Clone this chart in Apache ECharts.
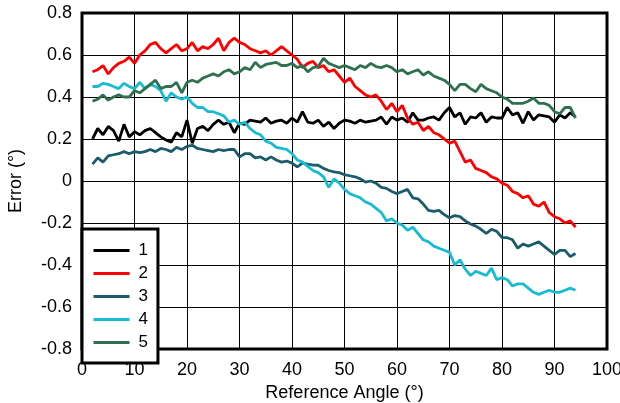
<!DOCTYPE html>
<html>
<head>
<meta charset="utf-8">
<script src="https://cdn.jsdelivr.net/npm/echarts@6/dist/echarts.min.js"></script>
<style>html,body{margin:0;padding:0;background:#fff;}#c{width:620px;height:403px;}</style>
</head>
<body>
<div id="c"></div>
<script>
// Reference angle (degrees), one sample per degree
var angles = [];
for (var a = 2; a <= 94; a++) angles.push(a);

var seriesNames = ['1', '2', '3', '4', '5'];

var s1 = [0.20,0.25,0.22,0.26,0.24,0.19,0.27,0.21,0.235,0.22,0.24,0.25,0.23,0.21,0.195,0.185,0.23,0.21,0.29,0.18,
0.25,0.26,0.24,0.27,0.29,0.27,0.28,0.23,0.275,0.27,0.29,0.285,0.28,0.30,0.275,0.285,0.29,0.275,0.30,0.28,
0.33,0.28,0.275,0.29,0.26,0.28,0.25,0.275,0.29,0.285,0.275,0.29,0.28,0.285,0.29,0.305,0.27,0.305,0.29,0.30,
0.28,0.325,0.29,0.29,0.30,0.305,0.29,0.325,0.35,0.305,0.325,0.27,0.305,0.30,0.325,0.28,0.305,0.30,0.30,0.35,
0.315,0.325,0.275,0.33,0.29,0.315,0.31,0.305,0.28,0.315,0.30,0.325,0.305];

var s2 = [0.52,0.53,0.55,0.51,0.54,0.56,0.57,0.59,0.56,0.60,0.62,0.65,0.66,0.63,0.61,0.63,0.65,0.62,0.63,0.66,
0.62,0.64,0.63,0.65,0.68,0.62,0.66,0.68,0.66,0.65,0.63,0.62,0.61,0.62,0.60,0.62,0.64,0.62,0.60,0.58,
0.54,0.56,0.57,0.54,0.55,0.52,0.53,0.50,0.47,0.49,0.45,0.43,0.41,0.40,0.41,0.38,0.34,0.37,0.33,0.36,
0.30,0.27,0.28,0.24,0.26,0.23,0.22,0.20,0.18,0.19,0.14,0.09,0.10,0.06,0.05,0.04,0.02,0.01,-0.01,-0.02,
-0.05,-0.06,-0.08,-0.07,-0.11,-0.12,-0.10,-0.15,-0.17,-0.18,-0.20,-0.19,-0.22];

var s3 = [0.08,0.11,0.09,0.12,0.125,0.13,0.14,0.13,0.14,0.135,0.14,0.15,0.14,0.155,0.15,0.14,0.16,0.15,0.165,0.17,
0.155,0.15,0.145,0.14,0.15,0.145,0.15,0.15,0.115,0.13,0.13,0.11,0.115,0.10,0.115,0.10,0.09,0.095,0.085,0.067,
0.085,0.08,0.076,0.075,0.06,0.05,0.043,0.04,0.03,0.025,0.02,0.01,-0.005,0.0,-0.01,-0.03,-0.035,-0.05,-0.06,-0.05,
-0.04,-0.08,-0.085,-0.11,-0.14,-0.145,-0.14,-0.16,-0.175,-0.165,-0.17,-0.19,-0.205,-0.215,-0.23,-0.25,-0.23,-0.24,-0.27,-0.27,
-0.28,-0.32,-0.30,-0.31,-0.30,-0.29,-0.31,-0.33,-0.35,-0.33,-0.33,-0.36,-0.345];

var s4 = [0.45,0.45,0.465,0.46,0.45,0.44,0.465,0.45,0.44,0.47,0.44,0.46,0.45,0.43,0.38,0.42,0.40,0.39,0.40,0.37,
0.35,0.35,0.33,0.33,0.32,0.31,0.28,0.29,0.27,0.28,0.25,0.23,0.22,0.19,0.18,0.16,0.155,0.15,0.13,0.10,
0.09,0.07,0.05,0.04,0.02,-0.03,0.01,-0.01,-0.04,-0.06,-0.07,-0.08,-0.10,-0.11,-0.13,-0.15,-0.19,-0.18,-0.20,-0.21,
-0.235,-0.22,-0.25,-0.28,-0.29,-0.31,-0.32,-0.33,-0.34,-0.40,-0.375,-0.42,-0.45,-0.43,-0.44,-0.45,-0.415,-0.47,-0.46,-0.47,
-0.50,-0.49,-0.49,-0.51,-0.53,-0.54,-0.53,-0.52,-0.53,-0.53,-0.52,-0.51,-0.52];

var s5 = [0.38,0.39,0.41,0.385,0.40,0.41,0.40,0.40,0.43,0.42,0.44,0.46,0.48,0.44,0.45,0.45,0.47,0.42,0.47,0.48,
0.47,0.49,0.50,0.51,0.50,0.52,0.53,0.51,0.52,0.54,0.53,0.565,0.54,0.555,0.56,0.565,0.55,0.55,0.56,0.54,
0.55,0.52,0.54,0.545,0.585,0.56,0.55,0.54,0.55,0.54,0.53,0.55,0.54,0.56,0.545,0.54,0.55,0.54,0.52,0.53,
0.51,0.52,0.53,0.505,0.52,0.50,0.49,0.48,0.46,0.43,0.46,0.46,0.44,0.425,0.46,0.44,0.43,0.42,0.40,0.39,
0.37,0.37,0.37,0.38,0.395,0.37,0.37,0.36,0.33,0.32,0.35,0.35,0.30];

var colors = ['#000000', '#ff0000', '#1c5b6b', '#18bcd2', '#2e7050'];

var xTickInterval = 10, yTickInterval = 0.2;

function pairs(vals) {
  return angles.map(function (x, i) { return [x, vals[i]]; });
}
var allValues = [s1, s2, s3, s4, s5];

var font = 'Liberation Sans, Arial, sans-serif';

var chart = echarts.init(document.getElementById('c'), null, {renderer: 'canvas'});
chart.setOption({
  animation: false,
  backgroundColor: '#fff',
  grid: {
    left: 82, right: 13, top: 13, bottom: 54,
    containLabel: false,
    outerBoundsMode: 'none',
    show: true, borderColor: '#000', borderWidth: 3, backgroundColor: 'transparent'
  },
  legend: {
    orient: 'vertical',
    left: 82, top: 229,
    padding: [13, 10, 12, 10],
    itemWidth: 36, itemHeight: 14, itemGap: 6,
    backgroundColor: '#fff',
    borderColor: '#000', borderWidth: 3, borderRadius: 0,
    itemStyle: {opacity: 0},
    lineStyle: {width: 3},
    textStyle: {fontFamily: font, fontSize: 17, color: '#000', padding: [0, 0, 0, 4]},
    data: seriesNames
  },
  xAxis: {
    type: 'value', min: 0, max: 100, interval: xTickInterval,
    name: 'Reference Angle (°)', nameLocation: 'middle', nameGap: 29,
    nameTextStyle: {fontFamily: font, fontSize: 18, color: '#000'},
    axisLine: {show: false}, axisTick: {show: false},
    axisLabel: {fontFamily: font, fontSize: 18, color: '#000', margin: 12},
    splitLine: {show: true, lineStyle: {color: '#000', width: 1}}
  },
  yAxis: {
    type: 'value', min: -0.8, max: 0.8, interval: yTickInterval,
    name: 'Error (°)', nameLocation: 'middle', nameGap: 57, nameRotate: 90,
    nameTextStyle: {fontFamily: font, fontSize: 18, color: '#000'},
    axisLine: {show: false}, axisTick: {show: false},
    axisLabel: {fontFamily: font, fontSize: 18, color: '#000', margin: 10,
      formatter: function (v) { return (Math.round(v * 10) / 10).toString(); }},
    splitLine: {show: true, lineStyle: {color: '#000', width: 1}}
  },
  series: seriesNames.map(function (n, i) {
    return {
      name: n, type: 'line', data: pairs(allValues[i]),
      symbol: 'none', showSymbol: false,
      lineStyle: {color: colors[i], width: 2.8},
      itemStyle: {color: colors[i]},
      z: 2 + i
    };
  })
});
</script>
</body>
</html>
